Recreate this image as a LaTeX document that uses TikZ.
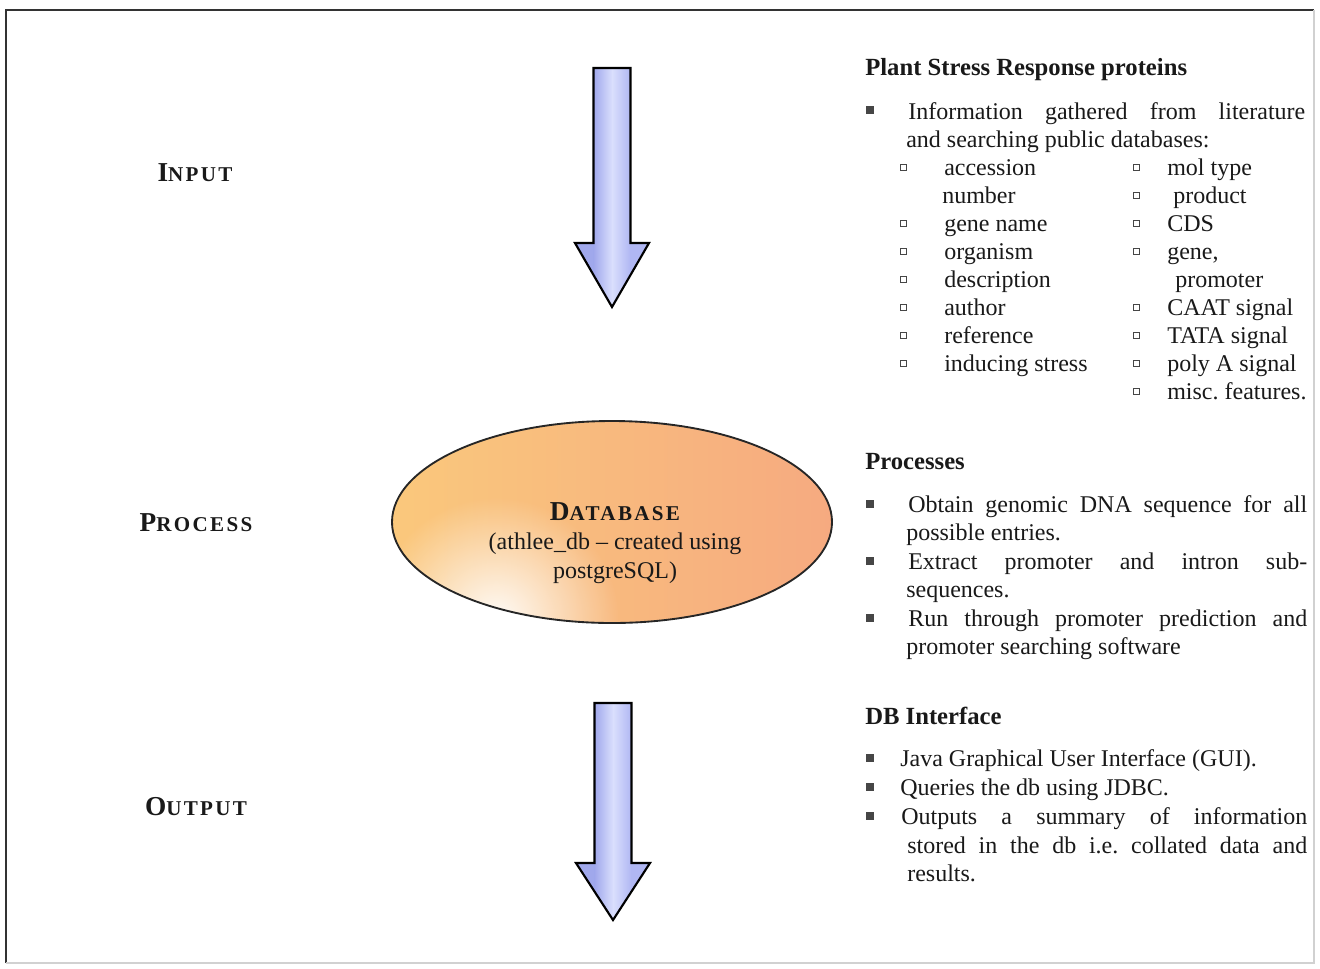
\documentclass[tikz,border=0pt]{standalone}
\usepackage{fontspec}
\setmainfont{Liberation Serif}
\usetikzlibrary{shapes.geometric,fadings}

% colours
\definecolor{arrL}{RGB}{160,168,236}
\definecolor{arrM}{RGB}{218,223,253}
\definecolor{arrR}{RGB}{176,183,243}
\definecolor{ellL}{RGB}{250,200,124}
\definecolor{ellM}{RGB}{245,160,132}
\definecolor{ellR}{RGB}{246,170,128}
\definecolor{bulgray}{RGB}{70,70,70}
\definecolor{inkc}{RGB}{25,25,25}

% radial glow used inside the ellipse
\tikzfading[name=softglow, inner color=transparent!0, outer color=transparent!100]

% letter-spaced capitals and small capitals
\newcommand\capsc[2]{{\addfontfeature{LetterSpace=11}\fontsize{20.5}{23}\selectfont #1\fontsize{15.8}{18}\selectfont #2}}

\tikzset{
  txt/.style={anchor=mid west, inner sep=0pt, yshift=-3.4pt, text=inkc,
    font=\fontsize{18}{21}\selectfont\frenchspacing},
  head/.style={txt, font=\fontsize{18.5}{21}\selectfont\bfseries},
  stage/.style={inner sep=0pt, text=inkc, font=\bfseries},
  dbline/.style={anchor=mid, inner sep=0pt, yshift=-3.2pt, text=inkc, font=\fontsize{18}{21}\selectfont},
  fbul/.style={rectangle, fill=bulgray, inner sep=0pt, minimum size=5.4pt},
  hbul/.style={rectangle, draw=bulgray, line width=0.6pt, fill=white, inner sep=0pt, minimum size=4.6pt},
  arrowline/.style={draw=black, line width=1.6pt, line join=miter},
  % block arrow pointing down; #1 = length of the shaft, #2 = total length
  pics/downarrow/.style 2 args={code={
    \def\arrowoutline{(-18.5,0) -- (18.5,0) -- (18.5,#1) -- (37,#1) -- (0,#2)
      -- (-37,#1) -- (-18.5,#1) -- cycle}
    \begin{scope}
      \clip \arrowoutline;
      \fill[arrL] (-38,-1) rectangle (-18,#2+1);
      \shade[left color=arrL, right color=arrM] (-18.5,-1) rectangle (0.2,#2+1);
      \shade[left color=arrM, right color=arrR] (0,-1) rectangle (18.5,#2+1);
      \fill[arrR] (18,-1) rectangle (38,#2+1);
    \end{scope}
    \draw[arrowline] \arrowoutline;
  }}
}

\begin{document}
\begin{tikzpicture}[x=0.75pt, y=-0.75pt]
\useasboundingbox (0,0) rectangle (1320,968);

% frame
\draw[black!80, line width=1.5pt] (6,963) -- (6,10) -- (1314,10);
\draw[black!18, line width=1pt] (1314,10) -- (1314,963) -- (6,963);

% stage labels
\node[stage] (input)   at (195,173) {\capsc{I}{NPUT}};
\node[stage] (process) at (196,523) {\capsc{P}{ROCESS}};
\node[stage] (output)  at (196,807) {\capsc{O}{UTPUT}};

% block arrows
\pic (inarrow)  at (612,68)  {downarrow={175}{239}};
\pic (outarrow) at (613,703) {downarrow={160}{217}};

% database ellipse
\node[ellipse, draw=black!85, line width=1.4pt, inner sep=0pt,
      minimum width=330pt, minimum height=151.5pt,
      path picture={
        \shade[left color=ellL, middle color=ellM, right color=ellR]
          (path picture bounding box.south west) rectangle (path picture bounding box.north east);
        \fill[white, opacity=0.95, path fading=softglow]
          ([shift={(78pt,2pt)}]path picture bounding box.south west) circle (92pt);
      }] (db) at (612,522) {};
\node[stage] (dbtitle) at (615,512) {\capsc{D}{ATABASE}};
\node[dbline] (dbl2) at (615,542) {(athlee\_db – created using};
\node[dbline] (dbl3) at (615,571) {postgreSQL)};

% ---- Plant Stress Response proteins
\node[head] (h1) at (865,68) {Plant Stress Response proteins};
\node[fbul] (b11) at (870,110) {};
\node[txt] (t11a) at (908,112) {\makebox[297.75pt][s]{Information gathered from literature}};
\node[txt] (t11b) at (906,140) {and searching public databases:};

\foreach \y/\name in {168/accession, 224/gene name, 252/organism, 280/description,
                      308/author, 336/reference, 364/inducing stress}{
  \node[hbul] at (903,\y-1) {};
  \node[txt] at (944,\y) {\name};
}
\node[txt] (num) at (942,196) {number};

\foreach \y/\name in {168/mol type, 224/CDS, 252/{gene,}, 308/CAAT signal,
                      336/TATA signal, 364/poly A signal, 392/misc. features.}{
  \node[hbul] at (1136,\y-1) {};
  \node[txt] at (1167,\y) {\name};
}
\node[hbul] (pb) at (1136,195) {};
\node[txt] (prod) at (1173,196) {product};
\node[txt] (prom) at (1175,280) {promoter};

% ---- Processes
\node[head] (h2) at (865,462) {Processes};
\node[fbul] (b21) at (870,504) {};
\node[txt] (t21a) at (908,505) {\makebox[299.25pt][s]{Obtain genomic DNA sequence for all}};
\node[txt] (t21b) at (906,533) {possible entries.};
\node[fbul] (b22) at (870,561) {};
\node[txt] (t22a) at (908,562) {\makebox[299.25pt][s]{Extract promoter and intron sub-}};
\node[txt] (t22b) at (906,590) {sequences.};
\node[fbul] (b23) at (870,618) {};
\node[txt] (t23a) at (908,619) {\makebox[299.25pt][s]{Run through promoter prediction and}};
\node[txt] (t23b) at (906,647) {promoter searching software};

% ---- DB Interface
\node[head] (h3) at (865,717) {DB Interface};
\node[fbul] (b31) at (870,758) {};
\node[txt] (t31) at (900,759) {Java Graphical User Interface (GUI).};
\node[fbul] (b32) at (870,787) {};
\node[txt] (t32) at (900,788) {Queries the db using JDBC.};
\node[fbul] (b33) at (870,816) {};
\node[txt] (t33a) at (901,817) {\makebox[304.5pt][s]{Outputs a summary of information}};
\node[txt] (t33b) at (907,846) {\makebox[300pt][s]{stored in the db i.e. collated data and}};
\node[txt] (t33c) at (907,874) {results.};
\end{tikzpicture}
\end{document}
